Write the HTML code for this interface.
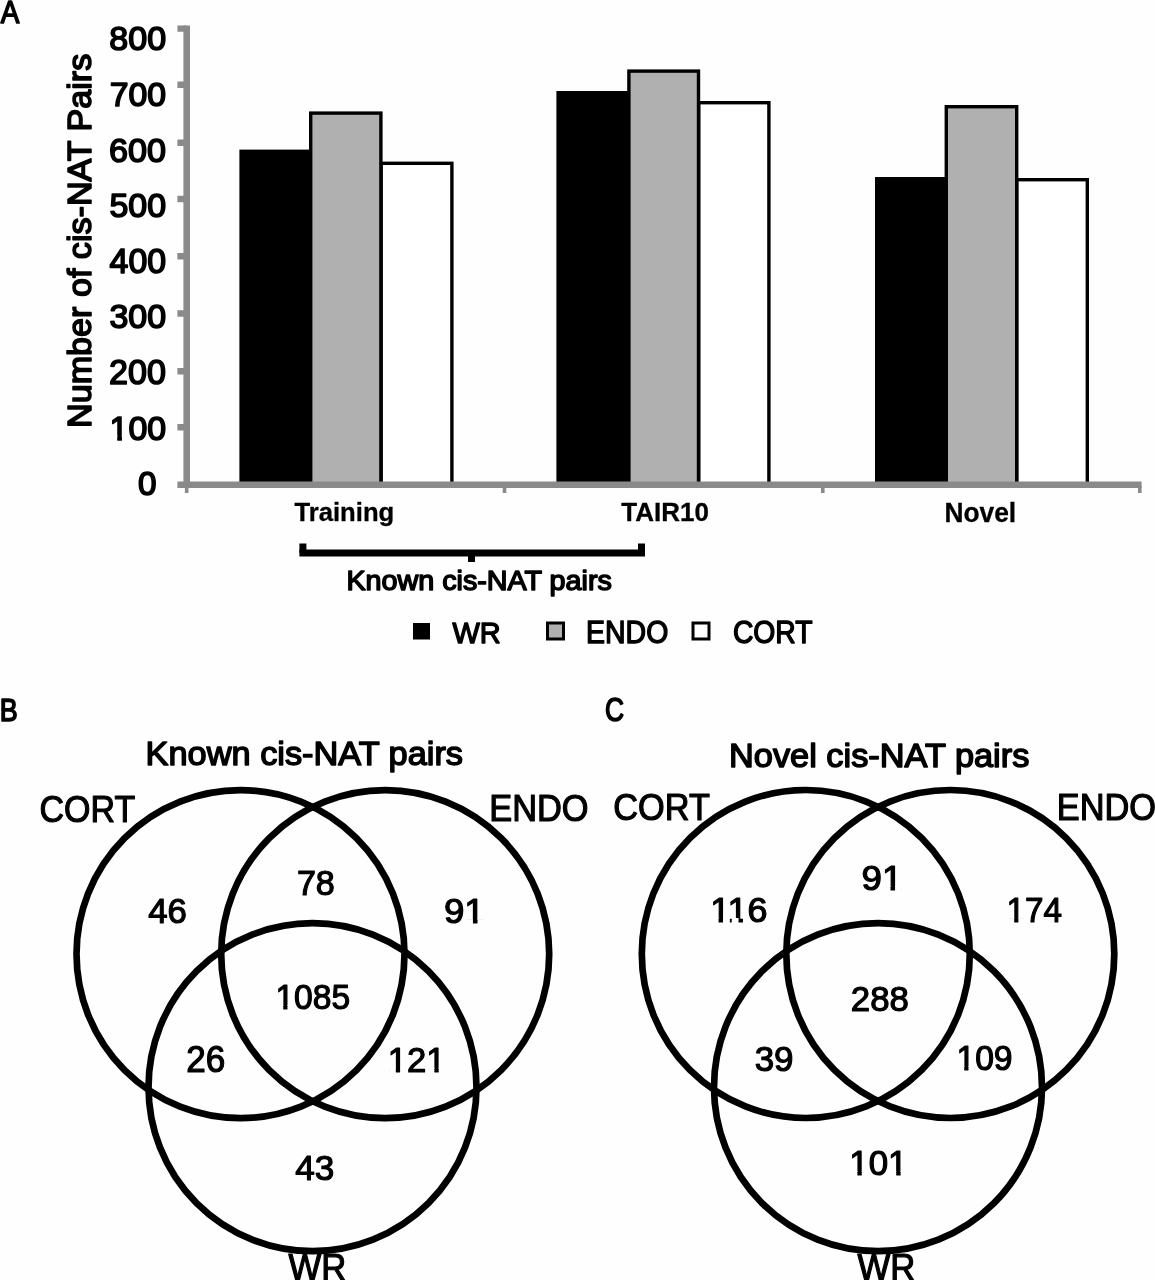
<!DOCTYPE html>
<html lang="en">
<head>
<meta charset="utf-8">
<title>cis-NAT pairs in root cell types</title>
<style>
html,body{margin:0;padding:0;background:#fff;}
body{width:1155px;height:1280px;overflow:hidden;}
svg{display:block;}
</style>
</head>
<body>
<svg width="1155" height="1280" viewBox="0 0 1155 1280" role="img" aria-label="Bar chart and Venn diagrams of cis-NAT pairs">
<rect width="1155" height="1280" fill="#fefefe"/>
<!-- Panel A: bar chart -->
<g stroke="#000" stroke-width="3.4">
<rect x="239.4" y="149.6" width="71.6" height="333.4" fill="#000" stroke="none"/>
<rect x="381.1" y="163.3" width="70.8" height="320.4" fill="#fff"/>
<rect x="310.7" y="113.1" width="70.2" height="370.6" fill="#b0b0b0"/>
<rect x="556.4" y="91" width="72.8" height="392" fill="#000" stroke="none"/>
<rect x="698.7" y="102.7" width="70.2" height="381" fill="#fff"/>
<rect x="628.9" y="71.1" width="69.6" height="412.6" fill="#b0b0b0"/>
<rect x="875" y="177" width="71.6" height="306" fill="#000" stroke="none"/>
<rect x="1016.7" y="179.7" width="70.6" height="304" fill="#fff"/>
<rect x="946.3" y="106.7" width="70.4" height="377" fill="#b0b0b0"/>
</g>
<g fill="none" stroke="#8a8a8a">
<path d="M186.7 25.6V488" stroke-width="6.6"/>
<path d="M177.4 484.7H1141.6" stroke-width="6.6"/>
<path d="M177.4 28.6H186M177.4 84.8H186M177.4 142.7H186M177.4 199H186M177.4 256.2H186M177.4 313.5H186M177.4 371.3H186M177.4 427.3H186" stroke-width="6.4"/>
<path d="M186.7 486V493M504.5 486V493M822.8 486V493M1139.8 486V493" stroke-width="3.6"/>
</g>
<path d="M302.9 543.6V552.9M641.5 543.6V552.9M471.5 552.9V562" fill="none" stroke="#000" stroke-width="7"/>
<path d="M299.4 552.9H645" fill="none" stroke="#000" stroke-width="7"/>
<!-- legend -->
<rect x="413" y="623" width="17" height="16.5" fill="#000"/>
<rect x="547.5" y="623" width="16" height="16" fill="#b0b0b0" stroke="#000" stroke-width="3"/>
<rect x="693" y="623" width="16" height="16" fill="#fff" stroke="#000" stroke-width="3"/>
<!-- Panels B and C: Venn diagrams -->
<g fill="none" stroke="#000" stroke-width="6.7">
<circle cx="240.5" cy="954.1" r="164"/>
<circle cx="385.2" cy="954.1" r="164"/>
<circle cx="312.5" cy="1087.2" r="164"/>
<circle cx="805.8" cy="954.0" r="164"/>
<circle cx="950.3" cy="954.0" r="164"/>
<circle cx="878.0" cy="1087.2" r="164"/>
</g>
<defs>
<clipPath id="k10"><path clip-rule="evenodd" d="M-50 -40.901H106.869V17.042H-50ZM0.996 -4.246H7.771V1.3H0.996ZM12.383 -4.246H18.892V1.3H12.383Z"/></clipPath>
<clipPath id="k26"><path clip-rule="evenodd" d="M-50 -42.254H89.166V17.606H-50ZM21.065 -4.131H27.837V1.1H21.065ZM32.149 -4.131H38.646V1.1H32.149Z"/></clipPath>
<clipPath id="k27"><path clip-rule="evenodd" d="M-50 -42.254H128.331V17.606H-50ZM1.482 -4.131H8.254V1.1H1.482ZM12.566 -4.131H19.064V1.1H12.566Z"/></clipPath>
<clipPath id="k29"><path clip-rule="evenodd" d="M-50 -42.514H109.111V17.714H-50ZM1.499 -4.147H8.309V1.1H1.499ZM12.64 -4.147H19.174V1.1H12.64ZM40.906 -4.147H47.716V1.1H40.906ZM52.048 -4.147H58.581V1.1H52.048Z"/></clipPath>
<clipPath id="k35"><path clip-rule="evenodd" d="M-50 -42.254H108.748V17.606H-50ZM1.482 -4.131H8.254V1.1H1.482ZM12.566 -4.131H19.064V1.1H12.566ZM21.065 -4.131H27.837V1.1H21.065ZM32.149 -4.131H38.646V1.1H32.149Z"/></clipPath>
<clipPath id="k36"><path clip-rule="evenodd" d="M-50 -42.254H89.166V17.606H-50ZM21.065 -4.131H27.837V1.1H21.065ZM32.149 -4.131H38.646V1.1H32.149Z"/></clipPath>
<clipPath id="k37"><path clip-rule="evenodd" d="M-50 -43.13H109.968V17.971H-50ZM1.538 -4.185H8.438V1.1H1.538ZM12.815 -4.185H19.434V1.1H12.815Z"/></clipPath>
<clipPath id="k40"><path clip-rule="evenodd" d="M-50 -42.254H108.748V17.606H-50ZM1.482 -4.131H8.254V1.1H1.482ZM12.566 -4.131H19.064V1.1H12.566Z"/></clipPath>
<clipPath id="k41"><path clip-rule="evenodd" d="M-50 -41.915H108.278V17.465H-50ZM1.461 -4.109H8.184V1.1H1.461ZM12.471 -4.109H18.921V1.1H12.471ZM40.313 -4.109H47.036V1.1H40.313ZM51.323 -4.109H57.773V1.1H51.323Z"/></clipPath>
</defs>
<g font-family='"Liberation Sans", Arial, sans-serif' fill="#000" stroke="#000" stroke-linejoin="round">
<text transform="matrix(0.868 0 0 1 0.661 22.8)" font-size="32.117" stroke-width="1.6">A</text>
<text transform="matrix(0.844 0 0 1 -0.353 721.2)" font-size="31.884" stroke-width="1.6">B</text>
<text transform="matrix(0.813 0 0 1 605.083 721.076)" font-size="32.394" stroke-width="1.6">C</text>
<text transform="matrix(1.008 0 0 1 109.267 50.062)" font-size="33.803" stroke-width="1.6">800</text>
<text transform="matrix(1 0 0 1 109.71 106.062)" font-size="33.803" stroke-width="1.6">700</text>
<text transform="matrix(1.003 0 0 1 109.091 161.859)" font-size="34.085" stroke-width="1.6">600</text>
<text transform="matrix(1.005 0 0 1 109.442 217.462)" font-size="33.803" stroke-width="1.6">500</text>
<text transform="matrix(0.978 0 0 1 109.553 273.054)" font-size="34.648" stroke-width="1.6">400</text>
<text transform="matrix(1.005 0 0 1 109.442 328.462)" font-size="33.803" stroke-width="1.6">300</text>
<text transform="matrix(0.978 0 0 1 109.091 384.451)" font-size="34.93" stroke-width="1.6">200</text>
<text transform="matrix(0.994 0 0 1 109.582 439.859)" font-size="34.085" stroke-width="1.6" clip-path="url(#k10)">100</text>
<text transform="matrix(0.992 0 0 1 138.069 495.265)" font-size="33.521" stroke-width="1.6">0</text>
<text transform="translate(90.663 427.931) rotate(-90) scale(1.012 1)" font-size="33.741" stroke-width="1.6">Number of cis-NAT Pairs</text>
<text transform="matrix(1.005 0 0 1 294.494 520.762)" font-size="25.525" stroke-width="0.3" font-weight="bold">Training</text>
<text transform="matrix(1.006 0 0 1 621.29 521.379)" font-size="25.839" stroke-width="0.3" font-weight="bold">TAIR10</text>
<text transform="matrix(0.97 0 0 1 944.438 521.85)" font-size="27.172" stroke-width="0.3" font-weight="bold">Novel</text>
<text transform="matrix(1.03 0 0 1 346.452 589.593)" font-size="27.889" stroke-width="1.5">Known cis-NAT pairs</text>
<text transform="matrix(0.96 0 0 1 452.555 642.7)" font-size="30.145" stroke-width="1.4">WR</text>
<text transform="matrix(0.919 0 0 1 586.022 642.79)" font-size="30.986" stroke-width="1.4">ENDO</text>
<text transform="matrix(0.914 0 0 1 732.884 642.79)" font-size="30.986" stroke-width="1.4">CORT</text>
<text transform="matrix(1.007 0 0 1 145.603 765.287)" font-size="34.111" stroke-width="1.5">Known cis-NAT pairs</text>
<text transform="matrix(0.901 0 0 1 39.499 822.023)" font-size="37.746" stroke-width="1.2">CORT</text>
<text transform="matrix(0.947 0 0 1 489.246 821.437)" font-size="36.338" stroke-width="1.2">ENDO</text>
<text transform="matrix(0.942 0 0 1 288.427 1280)" font-size="36.812" stroke-width="1.2">WR</text>
<text transform="matrix(0.981 0 0 1 148.129 923.445)" font-size="35.493" stroke-width="1.2">46</text>
<text transform="matrix(0.977 0 0 1 296.894 895.051)" font-size="34.93" stroke-width="1.2">78</text>
<text transform="matrix(1.042 0 0 1 443.948 923.448)" font-size="35.211" stroke-width="1.2" clip-path="url(#k26)">91</text>
<text transform="matrix(0.954 0 0 1 275.409 1009.248)" font-size="35.211" stroke-width="1.2" clip-path="url(#k27)">1085</text>
<text transform="matrix(0.966 0 0 1 186.345 1072.037)" font-size="36.338" stroke-width="1.2">26</text>
<text transform="matrix(0.979 0 0 1 387.705 1072)" font-size="35.429" stroke-width="1.2" clip-path="url(#k29)">121</text>
<text transform="matrix(0.988 0 0 1 295.22 1179.544)" font-size="35.634" stroke-width="1.2">43</text>
<text transform="matrix(1.024 0 0 1 729 766.803)" font-size="33.556" stroke-width="1.5">Novel cis-NAT pairs</text>
<text transform="matrix(0.93 0 0 1 613.285 820.231)" font-size="36.901" stroke-width="1.2">CORT</text>
<text transform="matrix(0.945 0 0 1 1056.852 820.037)" font-size="36.338" stroke-width="1.2">ENDO</text>
<text transform="matrix(0.942 0 0 1 857.427 1280)" font-size="36.812" stroke-width="1.2">WR</text>
<text transform="matrix(1.019 0 0 1 710.192 922.248)" font-size="35.211" stroke-width="1.2" clip-path="url(#k35)">116</text>
<text transform="matrix(1.042 0 0 1 861.548 890.248)" font-size="35.211" stroke-width="1.2" clip-path="url(#k36)">91</text>
<text transform="matrix(0.926 0 0 1 1006.439 922.4)" font-size="35.942" stroke-width="1.2" clip-path="url(#k37)">174</text>
<text transform="matrix(1.004 0 0 1 850.86 1010.854)" font-size="34.648" stroke-width="1.2">288</text>
<text transform="matrix(0.98 0 0 1 754.703 1070.544)" font-size="35.634" stroke-width="1.2">39</text>
<text transform="matrix(0.957 0 0 1 956.398 1070.248)" font-size="35.211" stroke-width="1.2" clip-path="url(#k40)">109</text>
<text transform="matrix(0.999 0 0 1 849.284 1175.051)" font-size="34.93" stroke-width="1.2" clip-path="url(#k41)">101</text>
</g>
</svg>
</body>
</html>
